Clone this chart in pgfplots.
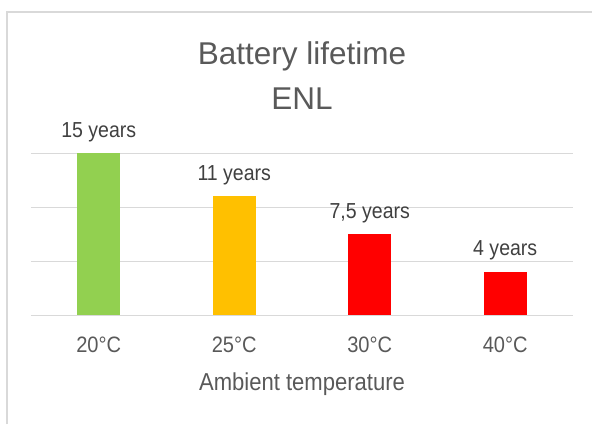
\documentclass[border=0pt]{standalone}
\usepackage{fontspec}
\setmainfont{Liberation Sans}
\newfontfamily\labfont{Liberation Sans}[FakeStretch=0.9]
\usepackage{pgfplots}
\pgfplotsset{compat=1.18}
\definecolor{cgreen}{HTML}{92D050}
\definecolor{corange}{HTML}{FFC000}
\definecolor{cred}{HTML}{FF0000}
\definecolor{cgrid}{HTML}{D9D9D9}
\definecolor{ctext}{HTML}{595959}
\definecolor{clab}{HTML}{404040}
\begin{document}
\begin{tikzpicture}[x=1pt,y=1pt]
\useasboundingbox (0,0) rectangle (592,424);
\draw[cgrid, line width=1.5pt] (7,0) -- (7,412) -- (592,412);
\begin{axis}[
  at={(31pt,109pt)}, anchor=south west,
  scale only axis, width=542pt, height=162pt,
  xmin=-0.5, xmax=3.5, ymin=0, ymax=15,
  ybar, bar width=43pt, bar shift=0pt,
  axis line style={draw=none},
  major tick length=0pt,
  ytick={0,5,10,15}, yticklabels={},
  ymajorgrids, grid style={cgrid, line width=1pt},
  xtick={0,1,2,3},
  xticklabels={20°C,25°C,30°C,40°C},
  /pgf/number format/assume math mode=true,
  xticklabel style={anchor=base, yshift=-37pt, text=ctext, font=\labfont\fontsize{22.3pt}{26pt}\selectfont},
  xlabel={Ambient temperature},
  xlabel style={at={(axis description cs:0.5,0)}, anchor=base, yshift=-75pt, text=ctext, font=\labfont\fontsize{24.5pt}{28pt}\selectfont},
  title={Battery lifetime\\ENL},
  title style={at={(axis description cs:0.5,1)}, anchor=south, yshift=34pt, align=center, text=ctext, font=\fontsize{31.5pt}{45pt}\selectfont},
  clip=false,
  nodes near coords,
  point meta=explicit symbolic,
  every node near coord/.append style={anchor=base, yshift=16pt, text=clab, font=\labfont\fontsize{21.7pt}{26pt}\selectfont},
]
\addplot[fill=cgreen, draw=none] coordinates {(0,15) [15 years]};
\addplot[fill=corange, draw=none] coordinates {(1,11) [11 years]};
\addplot[fill=cred, draw=none] coordinates {(2,7.5) [{7,5 years}]};
\addplot[fill=cred, draw=none] coordinates {(3,4) [4 years]};
\end{axis}
\end{tikzpicture}
\end{document}
